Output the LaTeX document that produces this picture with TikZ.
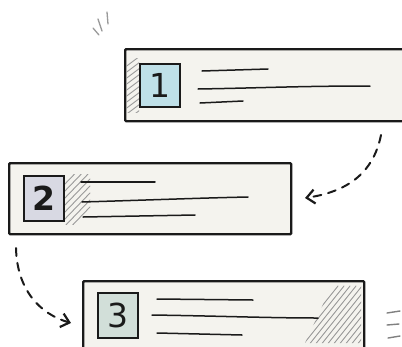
\documentclass[tikz,border=0pt]{standalone}
\usepackage{fontspec}
\setmainfont{DejaVu Sans}
\usetikzlibrary{arrows.meta}
\definecolor{boxfill}{HTML}{F4F3EE}
\definecolor{bluefill}{HTML}{BFE0E8}
\definecolor{grayfill}{HTML}{D8D9E3}
\definecolor{greenfill}{HTML}{D2DFD9}
\definecolor{ink}{HTML}{1A1A1A}
\definecolor{hatch}{HTML}{9A9A9A}
\tikzset{
  panel/.style={draw=ink, line width=2.4pt, fill=boxfill, anchor=north west, inner sep=0pt, rounded corners=1pt},
  numbox/.style={draw=ink, line width=2pt, anchor=north west, inner sep=0pt, font=\fontsize{33}{33}\selectfont, text=ink},
  txtline/.style={draw=ink, line width=1.5pt, line cap=round},
  hatchline/.style={draw=hatch, line width=0.9pt, line cap=round},
  flow/.style={draw=ink, line width=2pt, dash pattern=on 8pt off 7pt, line cap=round, -{Straight Barb[length=8pt,width=14pt,line width=2.2pt]}},
}
\begin{document}
\begin{tikzpicture}[x=1pt,y=-1pt]
\useasboundingbox (0,0) rectangle (402,346);
\clip (0,0) rectangle (402,346);
% panels
\node[panel, minimum width=292pt, minimum height=72pt] (b1) at (124,48) {};
\node[panel, minimum width=282pt, minimum height=71pt] (b2) at (8,162) {};
\node[panel, minimum width=281pt, minimum height=76pt] (b3) at (82,280) {};
% hatching box 1 (left of square)
\begin{scope}
\clip (126,58) rectangle (139,112);
\foreach \y in {56,62,...,116} \draw[hatchline] (124,\y+12) -- (140,\y);
\end{scope}
% hatching box 2 (right of square)
\begin{scope}
\clip (63,174) rectangle (94,224);
\foreach \y in {176,183,...,230} \draw[hatchline] (63,\y+10) -- (90,\y-18);
\end{scope}
% hatching box 3 (top-right corner)
\begin{scope}
\clip (332,285) -- (361,285) -- (361,343) -- (305,343) -- cycle;
\foreach \x in {290,296,...,400} \draw[hatchline] (\x,346) -- (\x+48,286);
\end{scope}
% number squares
\node[numbox, fill=bluefill, minimum width=40pt, minimum height=43pt] (s1) at (139,63) {1};
\node[numbox, fill=grayfill, minimum width=40pt, minimum height=45pt] (s2) at (23,175) {\bfseries 2};
\node[numbox, fill=greenfill, minimum width=40pt, minimum height=45pt] (s3) at (97,292) {3};
% text lines box 1
\draw[txtline] (202,71) -- (268,69);
\draw[txtline] (198,89) .. controls (260,88) and (300,86) .. (370,86);
\draw[txtline] (200,103) -- (243,101);
% text lines box 2
\draw[txtline] (81,182) -- (155,182);
\draw[txtline] (82,202) .. controls (150,200) and (200,198) .. (248,197);
\draw[txtline] (83,217) -- (195,215);
% text lines box 3
\draw[txtline] (157,299) -- (253,300);
\draw[txtline] (152,315) .. controls (220,316) and (270,318) .. (318,318);
\draw[txtline] (157,333) -- (242,335);
% little marks
\draw[hatchline, line width=1.3pt] (93,28) -- (99,35);
\draw[hatchline, line width=1.3pt] (98,19) -- (102,31);
\draw[hatchline, line width=1.3pt] (107,12) -- (108,24);
\draw[hatchline, line width=1.4pt, draw=gray] (387,313) -- (400,311);
\draw[hatchline, line width=1.4pt, draw=gray] (387,325) -- (399,324);
\draw[hatchline, line width=1.4pt, draw=gray] (388,338) -- (400,336);
% connectors
\coordinate (c1s) at (381,135);
\coordinate (c1e) at (305,198);
\coordinate (c2s) at (16,248);
\coordinate (c2e) at (71,323);
\draw[flow] (c1s) .. controls (373,175) and (345,192) .. (c1e);
\draw[flow] (c2s) .. controls (17,290) and (40,314) .. (c2e);
\end{tikzpicture}
\end{document}
